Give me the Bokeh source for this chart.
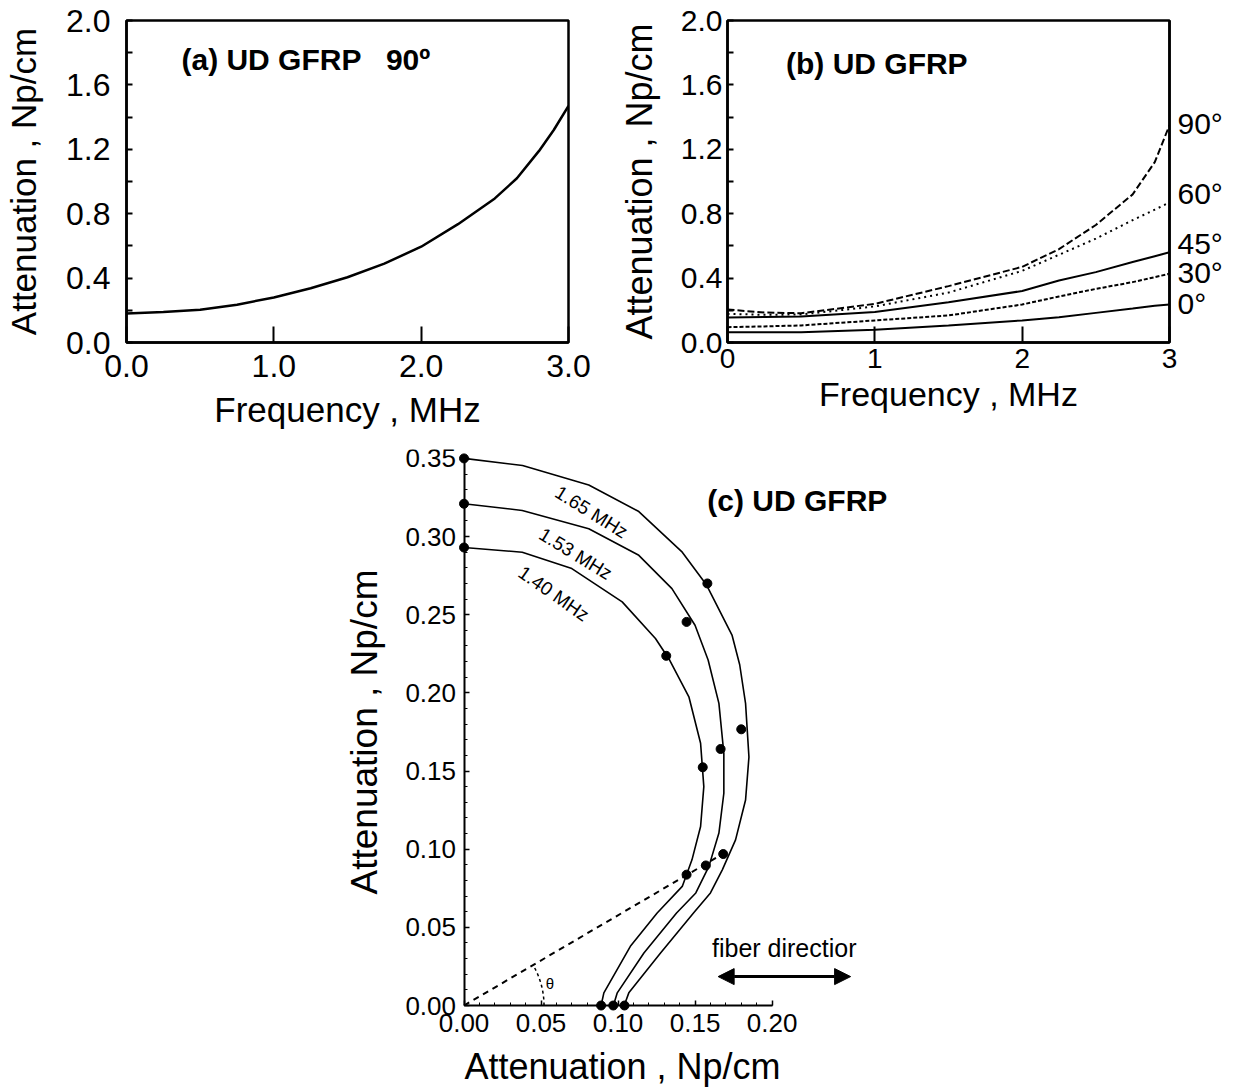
import math
from bokeh.plotting import figure
from bokeh.layouts import column, row
from bokeh.models import FixedTicker, Label, Arrow, NormalHead, LinearAxis
from bokeh.embed import file_html
from bokeh.resources import INLINE

FONT = "Liberation Sans"

# ---------------- data: panel (a) ----------------
freq_a = [0.0, 0.25, 0.5, 0.75, 1.0, 1.25, 1.5, 1.75, 2.0, 2.25, 2.5, 2.65, 2.8, 2.9, 3.0]
att_a = [0.18, 0.19, 0.203, 0.235, 0.28, 0.337, 0.405, 0.49, 0.595, 0.735, 0.895, 1.02, 1.19, 1.32, 1.47]
ticks_a_x = [0.0, 1.0, 2.0, 3.0]
labels_a_x = ["0.0", "1.0", "2.0", "3.0"]
ticks_y = [0.0, 0.4, 0.8, 1.2, 1.6, 2.0]
labels_y = ["0.0", "0.4", "0.8", "1.2", "1.6", "2.0"]
minor_y = [0.2, 0.6, 1.0, 1.4, 1.8]

# ---------------- data: panel (b) ----------------
freq_b = [0.0, 0.25, 0.5, 1.0, 1.5, 2.0, 2.25, 2.5, 2.75, 2.9, 3.0]
att_b_90 = [0.205, 0.186, 0.182, 0.24, 0.35, 0.47, 0.58, 0.73, 0.92, 1.12, 1.35]
att_b_60 = [0.178, 0.172, 0.174, 0.224, 0.31, 0.445, 0.545, 0.645, 0.76, 0.825, 0.87]
att_b_45 = [0.155, 0.158, 0.161, 0.19, 0.25, 0.32, 0.385, 0.437, 0.50, 0.536, 0.56]
att_b_30 = [0.095, 0.10, 0.106, 0.137, 0.168, 0.236, 0.286, 0.333, 0.375, 0.406, 0.427]
att_b_0 = [0.064, 0.064, 0.064, 0.079, 0.106, 0.137, 0.157, 0.184, 0.211, 0.228, 0.236]
angle_names = ["90°", "60°", "45°", "30°", "0°"]
ticks_b_x = [0, 1, 2, 3]
labels_b_x = ["0", "1", "2", "3"]

# ---------------- data: panel (c) ----------------
c165_x = [0.0, 0.038, 0.081, 0.1135, 0.1417, 0.1575, 0.174, 0.179, 0.1828, 0.185, 0.1828, 0.1763, 0.1677, 0.160, 0.149, 0.1276, 0.107, 0.104]
c165_y = [0.350, 0.3455, 0.333, 0.316, 0.290, 0.269, 0.237, 0.218, 0.1933, 0.159, 0.1315, 0.106, 0.0868, 0.072, 0.0592, 0.0336, 0.0081, 0.0]
c153_x = [0.0, 0.0378, 0.081, 0.1135, 0.135, 0.150, 0.1585, 0.1655, 0.1687, 0.1687, 0.1655, 0.159, 0.1505, 0.138, 0.1168, 0.0995, 0.097]
c153_y = [0.321, 0.3167, 0.305, 0.288, 0.2667, 0.2433, 0.221, 0.1933, 0.1614, 0.1358, 0.1103, 0.089, 0.072, 0.0592, 0.0336, 0.0081, 0.0]
c140_x = [0.0, 0.0378, 0.070, 0.1027, 0.1243, 0.1335, 0.146, 0.1536, 0.1557, 0.1536, 0.148, 0.1417, 0.1254, 0.108, 0.0908, 0.089]
c140_y = [0.293, 0.290, 0.2795, 0.2582, 0.2348, 0.221, 0.1975, 0.1678, 0.140, 0.1145, 0.0932, 0.0762, 0.0592, 0.0379, 0.0081, 0.0]
d165_x = [0.0, 0.158, 0.180, 0.1683, 0.1042]
d165_y = [0.350, 0.270, 0.1767, 0.0969, 0.0]
d153_x = [0.0, 0.1445, 0.1666, 0.157, 0.0969]
d153_y = [0.321, 0.2454, 0.1641, 0.0896, 0.0]
d140_x = [0.0, 0.1313, 0.155, 0.1445, 0.089]
d140_y = [0.293, 0.2237, 0.1524, 0.0837, 0.0]
freq_names = ["1.65 MHz", "1.53 MHz", "1.40 MHz"]
theta_deg = 30.0
ray_x_end = 0.170
ticks_c_x = [0.0, 0.05, 0.10, 0.15, 0.20]
labels_c_x = ["0.00", "0.05", "0.10", "0.15", "0.20"]
ticks_c_y = [0.0, 0.05, 0.10, 0.15, 0.20, 0.25, 0.30, 0.35]
labels_c_y = ["0.00", "0.05", "0.10", "0.15", "0.20", "0.25", "0.30", "0.35"]


def base_style(p):
    p.grid.visible = False
    p.background_fill_color = "white"
    p.border_fill_color = "white"
    for ax in p.axis:
        ax.axis_line_color = "black"
        ax.major_tick_line_color = "black"
        ax.minor_tick_line_color = "black"
        ax.major_label_text_color = "black"
        ax.major_label_text_font = FONT
        ax.axis_label_text_font = FONT
        ax.axis_label_text_font_style = "normal"
        ax.axis_label_text_color = "black"


def freq_panel(width, left, right, xt, xl, xfs, yfs, ylab_fs, xlab_fs, ystand, ylstand, xstand, xlstand):
    p = figure(width=width, height=440, x_range=(0, 3), y_range=(0, 2), title=None,
               output_backend="svg", toolbar_location=None,
               min_border_left=left, min_border_right=right, min_border_top=20, min_border_bottom=98)
    base_style(p)
    p.outline_line_color = "black"
    p.outline_line_width = 2.5
    p.outline_line_alpha = 1.0
    xa = p.xaxis[0]
    ya = p.yaxis[0]
    xa.ticker = FixedTicker(ticks=xt)
    xa.major_label_overrides = dict(zip(xt, xl))
    xa.major_tick_in = 16
    xa.major_tick_out = 0
    xa.minor_tick_in = 0
    xa.minor_tick_out = 0
    xa.major_tick_line_width = 2
    xa.axis_line_width = 2.5
    xa.major_label_text_font_size = xfs
    xa.major_label_standoff = xstand
    xa.axis_label = "Frequency , MHz"
    xa.axis_label_text_font_size = xlab_fs
    xa.axis_label_standoff = xlstand
    ya.ticker = FixedTicker(ticks=ticks_y, minor_ticks=minor_y)
    ya.major_label_overrides = dict(zip(ticks_y, labels_y))
    ya.major_tick_in = 6
    ya.major_tick_out = 0
    ya.minor_tick_in = 6
    ya.minor_tick_out = 0
    ya.major_tick_line_width = 2
    ya.minor_tick_line_width = 2
    ya.axis_line_width = 2.5
    ya.major_label_text_font_size = yfs
    ya.major_label_standoff = ystand
    ya.axis_label = "Attenuation , Np/cm"
    ya.axis_label_text_font_size = ylab_fs
    ya.axis_label_standoff = ylstand
    return p


# ---------------- panel (a) ----------------
pa = freq_panel(600, 126, 32, ticks_a_x, labels_a_x, "32px", "32px", "35px", "35px", 16, 20, 12, 10)
pa.line(freq_a, att_a, line_color="black", line_width=2.5)
pa.add_layout(Label(x=0.373, y=1.758, text="(a) UD GFRP \u00a0 90º", text_font=FONT,
                    text_font_size="30px", text_font_style="bold", text_color="black",
                    text_baseline="middle"))

# ---------------- panel (b) ----------------
pb = freq_panel(636, 127, 67, ticks_b_x, labels_b_x, "28px", "30px", "36px", "34px", 5, 18, 6, 4)
series_b = [att_b_90, att_b_60, att_b_45, att_b_30, att_b_0]
dashes_b = ["7 3", "2 4", "solid", "4 2", "solid"]
for ys, dash in zip(series_b, dashes_b):
    pb.line(freq_b, ys, line_color="black", line_width=2, line_dash=dash)
label_y_b = [1.36, 0.925, 0.615, 0.432, 0.242]
ra = LinearAxis(ticker=FixedTicker(ticks=label_y_b),
                major_label_overrides=dict(zip(label_y_b, angle_names)),
                major_tick_in=0, major_tick_out=0, minor_tick_in=0, minor_tick_out=0,
                axis_line_color="black", axis_line_width=2.5, major_label_standoff=8,
                major_label_text_font=FONT, major_label_text_font_size="30px",
                major_label_text_color="black")
pb.add_layout(ra, "right")
pb.add_layout(Label(x=0.397, y=1.736, text="(b) UD GFRP", text_font=FONT,
                    text_font_size="30px", text_font_style="bold", text_color="black",
                    text_baseline="middle"))

# ---------------- panel (c) ----------------
pc = figure(width=1236, height=649, x_range=(-0.0802, 0.286), y_range=(-0.0243, 0.3557), title=None,
            output_backend="svg", toolbar_location=None,
            min_border_left=340, min_border_right=332, min_border_top=9, min_border_bottom=45)
base_style(pc)
pc.outline_line_color = None
xa = pc.xaxis[0]
ya = pc.yaxis[0]
xa.fixed_location = 0
ya.fixed_location = 0
xa.bounds = (0, 0.2)
ya.bounds = (0, 0.35)
minor_c_x = [i / 100 for i in range(0, 21)]
minor_c_y = [i / 100 for i in range(0, 36)]
xa.ticker = FixedTicker(ticks=ticks_c_x, minor_ticks=minor_c_x)
ya.ticker = FixedTicker(ticks=ticks_c_y, minor_ticks=minor_c_y)
xa.major_label_overrides = dict(zip(ticks_c_x, labels_c_x))
ya.major_label_overrides = dict(zip(ticks_c_y, labels_c_y))
for ax in (xa, ya):
    ax.axis_line_width = 2
    ax.major_tick_in = 5
    ax.major_tick_out = 0
    ax.minor_tick_in = 3
    ax.minor_tick_out = 0
    ax.major_tick_line_width = 1.5
    ax.minor_tick_line_width = 1
    ax.major_label_text_font_size = "26px"
    ax.major_label_standoff = 8
ya.axis_label = "Attenuation , Np/cm"
ya.axis_label_text_font_size = "37px"
ya.axis_label_standoff = 18

# bottom title axis (only carries the axis label, below the frame)
lab_ax = LinearAxis(ticker=FixedTicker(ticks=[]), axis_label="Attenuation , Np/cm",
                    axis_line_color=None, major_tick_line_color=None, minor_tick_line_color=None,
                    major_tick_in=0, major_tick_out=0, minor_tick_in=0, minor_tick_out=0,
                    major_label_standoff=0, axis_label_standoff=2,
                    axis_label_text_font=FONT, axis_label_text_font_size="36px",
                    axis_label_text_font_style="normal", axis_label_text_color="black")
pc.add_layout(lab_ax, "below")

for cx, cy, dx, dy in [(c165_x, c165_y, d165_x, d165_y),
                       (c153_x, c153_y, d153_x, d153_y),
                       (c140_x, c140_y, d140_x, d140_y)]:
    pc.line(cx, cy, line_color="black", line_width=1.6, line_join="round")
    pc.scatter(dx, dy, size=9, color="black")

ray_y_end = ray_x_end * math.tan(math.radians(theta_deg))
pc.line([0, ray_x_end], [0, ray_y_end], line_color="black", line_width=2, line_dash="6 5")
pc.arc(x=[0], y=[0], radius=80, radius_units="screen", start_angle=0,
       end_angle=math.radians(theta_deg), line_color="black", line_width=1.5, line_dash="3 3")
pc.add_layout(Label(x=0.053, y=0.014, text="θ", text_font=FONT, text_font_size="15px",
                    text_color="black", text_baseline="middle"))

curve_label_pos = [(0.0828, 0.3157, -32.0), (0.0724, 0.289, -31.5), (0.0583, 0.2635, -35.0)]
for name, (lx, ly, ang) in zip(freq_names, curve_label_pos):
    pc.add_layout(Label(x=lx, y=ly, text=name, angle=math.radians(ang), angle_units="rad",
                        text_font=FONT, text_font_size="19px", text_color="black",
                        text_align="center", text_baseline="middle"))

pc.add_layout(Label(x=0.158, y=0.3231, text="(c) UD GFRP", text_font=FONT, text_font_size="30px",
                    text_font_style="bold", text_color="black", text_baseline="middle"))
pc.add_layout(Label(x=0.161, y=0.037, text="fiber directior", text_font=FONT, text_font_size="25px",
                    text_color="black", text_baseline="middle"))
pc.add_layout(Arrow(start=NormalHead(size=16, fill_color="black", line_color="black"),
                    end=NormalHead(size=16, fill_color="black", line_color="black"),
                    x_start=0.165, y_start=0.0185, x_end=0.251, y_end=0.0185,
                    line_color="black", line_width=3))

layout = column(row(pa, pb), pc)
open("out.html", "w").write(file_html(layout, INLINE))
